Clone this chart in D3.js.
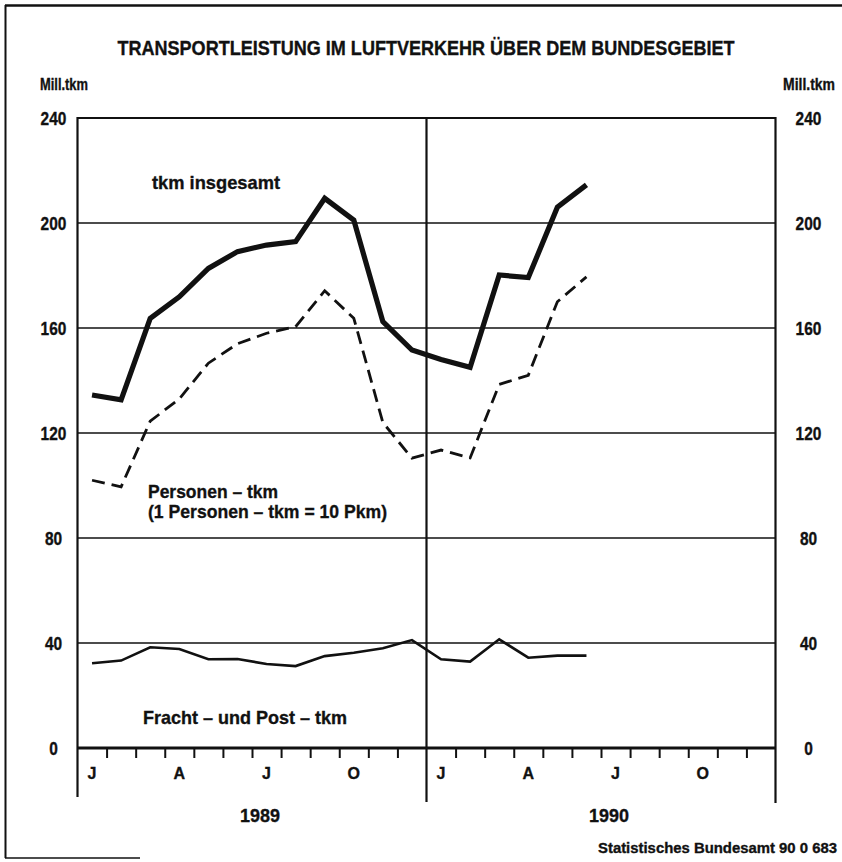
<!DOCTYPE html>
<html>
<head>
<meta charset="utf-8">
<script src="https://cdn.jsdelivr.net/npm/d3@7"></script>
<style>
  html, body { margin: 0; padding: 0; background: #fff; }
  svg { display: block; }
  text { font-family: "Liberation Sans Narrow", "Arial Narrow", "Liberation Sans", sans-serif; font-weight: bold; fill: #111; stroke: #111; stroke-width: 0.35px; }
</style>
</head>
<body>
<svg id="chart" width="842" height="862"></svg>
<script>
// ---- data ----
const months = ["J","F","M","A","M","J","J","A","S","O","N","D",
                "J","F","M","A","M","J"];            // Jan 1989 .. Jun 1990
const years = ["1989", "1990"];
const monthLabels = ["J", "A", "J", "O"];               // shown each year
const monthLabelIdx = [0, 3, 6, 9];
const totalTkm   = [134.5, 132.6, 163.7, 171.9, 182.7, 189.1, 191.6, 192.9, 209.4, 201.1, 162.4, 151.6,
                    148.0, 145.0, 180.2, 179.2, 206.0, 214.5];
const personTkm  = [102.0, 99.5, 124.5, 133.0, 146.6, 154.0, 158.0, 160.5, 174.2, 163.7, 124.0, 110.4,
                    113.5, 110.5, 138.5, 142.0, 170.0, 179.5];
const freightTkm = [32.3, 33.3, 38.4, 37.7, 33.8, 33.9, 32.0, 31.2, 35.0, 36.3, 38.0, 41.1,
                    33.8, 32.9, 41.4, 34.4, 35.2, 35.2];
const yTicks = [0, 40, 80, 120, 160, 200, 240];

// ---- layout ----
const svg = d3.select("#chart");
const pLeft = 77.5, pRight = 775.5, pTop = 118, pBottom = 748;
const x = d3.scaleLinear().domain([0, 24]).range([pLeft, pRight]);
const y = d3.scaleLinear().domain([0, 240]).range([pBottom, pTop]);
const ink = "#111";

// outer frame (top, left, bottom)
svg.append("line").attr("x1", 5).attr("x2", 842).attr("y1", 5.5).attr("y2", 5.5)
   .attr("stroke", ink).attr("stroke-width", 2.5);
svg.append("line").attr("x1", 5.5).attr("x2", 5.5).attr("y1", 5).attr("y2", 858)
   .attr("stroke", ink).attr("stroke-width", 2);
svg.append("line").attr("x1", 5).attr("x2", 140).attr("y1", 858).attr("y2", 858)
   .attr("stroke", ink).attr("stroke-width", 1.5);

// title
svg.append("text").attr("x", 426).attr("y", 55).attr("text-anchor", "middle")
   .style("font-size", "20px").attr("textLength", 617).attr("lengthAdjust", "spacingAndGlyphs")
   .text("TRANSPORTLEISTUNG IM LUFTVERKEHR ÜBER DEM BUNDESGEBIET");

// unit labels
svg.append("text").attr("x", 40).attr("y", 90).style("font-size", "16px")
   .attr("textLength", 48).attr("lengthAdjust", "spacingAndGlyphs").text("Mill.tkm");
svg.append("text").attr("x", 783).attr("y", 90).style("font-size", "16px")
   .attr("textLength", 52).attr("lengthAdjust", "spacingAndGlyphs").text("Mill.tkm");

// horizontal grid lines
svg.append("g").selectAll("line").data(yTicks.filter(v => v > 0)).join("line")
   .attr("x1", pLeft).attr("x2", pRight)
   .attr("y1", d => y(d)).attr("y2", d => y(d))
   .attr("stroke", ink).attr("stroke-width", d => d === 240 ? 2 : 1.6);

// y axis labels left & right via d3 axes
const yAxisL = d3.axisLeft(y).tickValues(yTicks).tickSize(0).tickPadding(0);
const gL = svg.append("g").attr("transform", `translate(${pLeft},0)`).call(yAxisL);
gL.attr("font-family", null).attr("font-size", null);
gL.select(".domain").remove();
gL.selectAll("text").attr("x", -24).attr("text-anchor", "middle").attr("dy", "0.36em")
  .style("font-size", "18px").attr("fill", ink)
  .attr("textLength", d => String(d).length * 8.6).attr("lengthAdjust", "spacingAndGlyphs");
const yAxisR = d3.axisRight(y).tickValues(yTicks).tickSize(0).tickPadding(0);
const gR = svg.append("g").attr("transform", `translate(${pRight},0)`).call(yAxisR);
gR.attr("font-family", null).attr("font-size", null);
gR.select(".domain").remove();
gR.selectAll("text").attr("x", 33).attr("text-anchor", "middle").attr("dy", "0.36em")
  .style("font-size", "18px").attr("fill", ink)
  .attr("textLength", d => String(d).length * 8.6).attr("lengthAdjust", "spacingAndGlyphs");

// vertical frame lines: left axis, year divider, right axis
svg.append("line").attr("x1", x(0)).attr("x2", x(0)).attr("y1", pTop - 1).attr("y2", 797)
   .attr("stroke", ink).attr("stroke-width", 2.2);
svg.append("line").attr("x1", x(12)).attr("x2", x(12)).attr("y1", pTop - 1).attr("y2", 802)
   .attr("stroke", ink).attr("stroke-width", 2.2);
svg.append("line").attr("x1", x(24)).attr("x2", x(24)).attr("y1", pTop - 1).attr("y2", 803)
   .attr("stroke", ink).attr("stroke-width", 2.2);

// x axis: zero line with month ticks
const xAxis = d3.axisBottom(x).tickValues(d3.range(1, 24).filter(v => v !== 12))
   .tickSize(10).tickFormat("");
const gX = svg.append("g").attr("transform", `translate(0,${pBottom})`).call(xAxis);
gX.select(".domain").attr("stroke", ink).attr("stroke-width", 3).attr("d", `M${pLeft},0H${pRight}`);
gX.selectAll(".tick line").attr("stroke", ink).attr("stroke-width", 2);

// month labels
const monthPos = [];
years.forEach((yr, yi) => monthLabelIdx.forEach((m, k) => monthPos.push({ m: yi * 12 + m, t: monthLabels[k] })));
svg.append("g").selectAll("text").data(monthPos).join("text")
   .attr("x", d => x(d.m + 0.5)).attr("y", 779).attr("text-anchor", "middle")
   .style("font-size", "16px").text(d => d.t);

// year labels
svg.append("g").selectAll("text").data(years).join("text")
   .attr("x", (d, i) => x(i * 12 + 6) + 8).attr("y", 822).attr("text-anchor", "middle")
   .style("font-size", "19px").attr("textLength", 40).attr("lengthAdjust", "spacingAndGlyphs")
   .text(d => d);

// lines
const line = d3.line().x((d, i) => x(i + 0.5)).y(d => y(d));
svg.append("path").datum(totalTkm).attr("d", line).attr("fill", "none")
   .attr("stroke", ink).attr("stroke-width", 5.2).attr("stroke-linejoin", "miter");
svg.append("path").datum(personTkm).attr("d", line).attr("fill", "none")
   .attr("stroke", ink).attr("stroke-width", 2.8).attr("stroke-dasharray", "13,7");
svg.append("path").datum(freightTkm).attr("d", line).attr("fill", "none")
   .attr("stroke", ink).attr("stroke-width", 2.6);

// series labels
svg.append("text").attr("x", 152).attr("y", 189).style("font-size", "19px")
   .attr("textLength", 128).attr("lengthAdjust", "spacingAndGlyphs").text("tkm  insgesamt");
svg.append("text").attr("x", 148).attr("y", 498).style("font-size", "19px")
   .attr("textLength", 130).attr("lengthAdjust", "spacingAndGlyphs").text("Personen – tkm");
svg.append("text").attr("x", 148).attr("y", 518).style("font-size", "19px")
   .attr("textLength", 239).attr("lengthAdjust", "spacingAndGlyphs").text("(1 Personen – tkm = 10 Pkm)");
svg.append("text").attr("x", 143).attr("y", 724).style("font-size", "19px")
   .attr("textLength", 204).attr("lengthAdjust", "spacingAndGlyphs").text("Fracht – und  Post – tkm");

// source
svg.append("text").attr("x", 837).attr("y", 853).attr("text-anchor", "end").style("font-size", "15px")
   .attr("textLength", 239).attr("lengthAdjust", "spacingAndGlyphs").text("Statistisches Bundesamt 90 0 683");
</script>
</body>
</html>
